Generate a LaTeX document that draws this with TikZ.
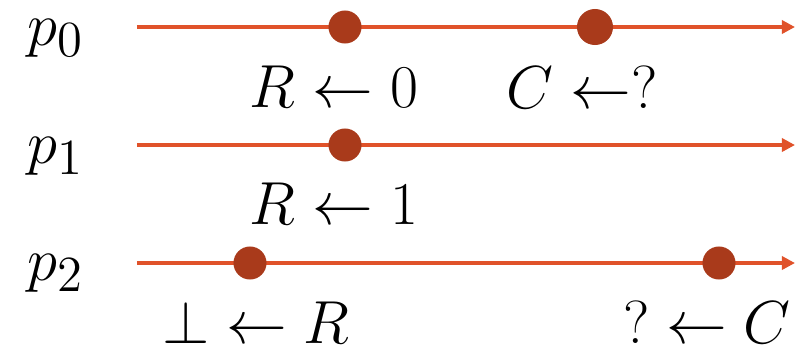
\documentclass[tikz,border=0pt]{standalone}
\usepackage{amsmath,amssymb}
\usepackage{tikz}
\usetikzlibrary{arrows.meta,positioning}
\definecolor{lineorange}{HTML}{E0522A}
\definecolor{dotred}{HTML}{A93A1B}

\begin{document}
\begin{tikzpicture}[
    x=0.01cm, y=-0.01cm,
    proc/.style={draw=lineorange, line width=1.15pt, -{Triangle[length=0.13cm, width=0.13cm]}},
    event/.style={circle, fill=dotred, inner sep=0pt, minimum size=0.33cm},
    plabel/.style={font=\fontsize{19}{22}\selectfont},
    elabel/.style={font=\fontsize{19}{22}\selectfont},
  ]
  \useasboundingbox (0,0) rectangle (799,354);

  % Process names
  \node[plabel] (p0) at (56,38) {$p_0$};
  \node[plabel] (p1) at (56,156) {$p_1$};
  \node[plabel] (p2) at (56,273) {$p_2$};

  % Start and end of each time line
  \coordinate (s0) at (137,27);  \coordinate (e0) at (795,27);
  \coordinate (s1) at (137,145); \coordinate (e1) at (795,145);
  \coordinate (s2) at (137,263); \coordinate (e2) at (795,263);

  % Time lines
  \draw[proc] (s0) -- (e0);
  \draw[proc] (s1) -- (e1);
  \draw[proc] (s2) -- (e2);

  % Events
  \node[event] (a0) at (345,27) {};
  \node[event, minimum size=0.36cm] (b0) at (595,27) {};
  \node[event] (a1) at (345,145) {};
  \node[event] (a2) at (250,263) {};
  \node[event] (b2) at (719,263) {};

  % Event labels
  \node[elabel] (la0) at (334,87) {$R \leftarrow 0$};
  \node[elabel] (lb0) at (582,87) {$C \leftarrow ?$};
  \node[elabel] (la1) at (334,204) {$R \leftarrow 1$};
  \node[elabel] (la2) at (256,322) {$\bot \leftarrow R$};
  \node[elabel] (lb2) at (707,322) {$? \leftarrow C$};
\end{tikzpicture}
\end{document}
